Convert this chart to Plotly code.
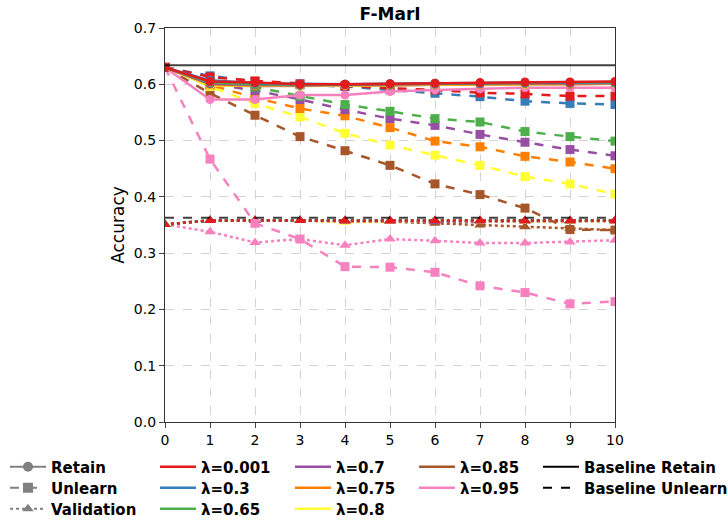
import plotly.graph_objects as go

steps = list(range(11))
lambdas = ["0.001", "0.3", "0.65", "0.7", "0.75", "0.8", "0.85", "0.95"]
colors = ["#e41a1c", "#377eb8", "#4daf4a", "#984ea3", "#ff7f00", "#ffff33", "#a65628", "#f781bf"]

retain = {
    "0.001": [0.630, 0.605, 0.603, 0.600, 0.600, 0.601, 0.602, 0.603, 0.604, 0.604, 0.605],
    "0.3":   [0.630, 0.607, 0.602, 0.601, 0.600, 0.601, 0.602, 0.602, 0.603, 0.603, 0.604],
    "0.65":  [0.630, 0.603, 0.600, 0.599, 0.600, 0.600, 0.601, 0.602, 0.602, 0.603, 0.603],
    "0.7":   [0.630, 0.601, 0.599, 0.598, 0.599, 0.600, 0.600, 0.601, 0.602, 0.602, 0.602],
    "0.75":  [0.630, 0.600, 0.598, 0.598, 0.598, 0.599, 0.600, 0.600, 0.601, 0.601, 0.602],
    "0.8":   [0.630, 0.598, 0.598, 0.597, 0.598, 0.599, 0.599, 0.600, 0.600, 0.601, 0.601],
    "0.85":  [0.630, 0.598, 0.597, 0.597, 0.598, 0.598, 0.599, 0.600, 0.600, 0.600, 0.601],
    "0.95":  [0.630, 0.573, 0.573, 0.581, 0.581, 0.587, 0.590, 0.592, 0.594, 0.594, 0.594],
}
unlearn = {
    "0.001": [0.630, 0.613, 0.606, 0.601, 0.597, 0.593, 0.590, 0.585, 0.583, 0.579, 0.579],
    "0.3":   [0.630, 0.615, 0.605, 0.599, 0.596, 0.590, 0.584, 0.578, 0.570, 0.566, 0.564],
    "0.65":  [0.630, 0.605, 0.595, 0.579, 0.564, 0.552, 0.539, 0.533, 0.516, 0.507, 0.499],
    "0.7":   [0.630, 0.601, 0.589, 0.573, 0.555, 0.539, 0.527, 0.511, 0.497, 0.484, 0.473],
    "0.75":  [0.630, 0.599, 0.576, 0.557, 0.544, 0.523, 0.499, 0.489, 0.472, 0.462, 0.450],
    "0.8":   [0.630, 0.596, 0.566, 0.542, 0.513, 0.492, 0.474, 0.456, 0.436, 0.423, 0.405],
    "0.85":  [0.630, 0.584, 0.545, 0.507, 0.482, 0.456, 0.423, 0.404, 0.380, 0.342, 0.341],
    "0.95":  [0.630, 0.467, 0.353, 0.325, 0.276, 0.275, 0.266, 0.242, 0.230, 0.210, 0.214],
}
validation = {
    "0.001": [0.351, 0.358, 0.358, 0.358, 0.358, 0.358, 0.358, 0.358, 0.358, 0.358, 0.358],
    "0.3":   [0.351, 0.358, 0.358, 0.358, 0.358, 0.358, 0.358, 0.358, 0.358, 0.358, 0.358],
    "0.65":  [0.351, 0.358, 0.358, 0.358, 0.358, 0.358, 0.358, 0.358, 0.358, 0.358, 0.358],
    "0.7":   [0.351, 0.358, 0.358, 0.358, 0.357, 0.357, 0.356, 0.357, 0.357, 0.357, 0.357],
    "0.75":  [0.351, 0.358, 0.358, 0.358, 0.356, 0.356, 0.357, 0.357, 0.357, 0.357, 0.357],
    "0.8":   [0.351, 0.358, 0.358, 0.358, 0.355, 0.356, 0.357, 0.357, 0.356, 0.356, 0.357],
    "0.85":  [0.351, 0.358, 0.358, 0.358, 0.357, 0.356, 0.353, 0.350, 0.347, 0.344, 0.341],
    "0.95":  [0.351, 0.338, 0.319, 0.325, 0.314, 0.325, 0.322, 0.318, 0.318, 0.320, 0.323],
}
baseline_retain = 0.634
baseline_unlearn = 0.363

title = "F-MarI"
FONT = "DejaVu Sans"

fig = go.Figure()

order = list(range(len(lambdas)))[::-1]
for i in order:
    lam, c = lambdas[i], colors[i]
    fig.add_trace(go.Scatter(x=steps, y=validation[lam], mode="lines+markers",
                             line=dict(color=c, width=2.5, dash="dot"),
                             marker=dict(symbol="triangle-up", size=10, color=c),
                             showlegend=False))
for i in order:
    lam, c = lambdas[i], colors[i]
    fig.add_trace(go.Scatter(x=steps, y=unlearn[lam], mode="lines+markers",
                             line=dict(color=c, width=2.5, dash="dash"),
                             marker=dict(symbol="square", size=9, color=c),
                             showlegend=False))
for i in order:
    lam, c = lambdas[i], colors[i]
    fig.add_trace(go.Scatter(x=steps, y=retain[lam], mode="lines+markers",
                             line=dict(color=c, width=2.5, dash="solid"),
                             marker=dict(symbol="circle", size=9, color=c),
                             showlegend=False))

fig.add_trace(go.Scatter(x=[0, 10], y=[baseline_retain] * 2, mode="lines",
                         line=dict(color="rgba(0,0,0,0.75)", width=2), showlegend=False))
fig.add_trace(go.Scatter(x=[0, 10], y=[baseline_unlearn] * 2, mode="lines",
                         line=dict(color="rgba(0,0,0,0.75)", width=2, dash="dash"), showlegend=False))

# legend entries: (name, line dict, marker or None, column, row)
gray = "#808080"
entries = []
for r, (name, sym, dash) in enumerate([("Retain", "circle", "solid"), ("Unlearn", "square", "dash"),
                                       ("Validation", "triangle-up", "dot")]):
    entries.append((name, dict(color=gray, width=2, dash=dash), dict(symbol=sym, size=10, color=gray), 0, r))
for k, i in enumerate(range(len(lambdas))):
    col = 1 + k // 3
    row = k % 3
    entries.append(("λ=" + lambdas[i], dict(color=colors[i], width=2.5), None, col, row))
entries.append(("Baseline Retain", dict(color="black", width=2), None, 4, 0))
entries.append(("Baseline Unlearn", dict(color="black", width=2, dash="dash"), None, 4, 1))

col_px = [5, 155, 290, 414, 538]
row_px = [466, 487, 508]
plot_left, plot_w, plot_bottom, plot_h = 165, 450, 422, 394

legend_layouts = {}
for n, (name, ln, mk, col, row) in enumerate(entries):
    key = "legend" if n == 0 else "legend%d" % (n + 1)
    tr = dict(x=[None], y=[None], name=name, line=ln, legend=key, showlegend=True)
    if mk is not None:
        tr.update(mode="lines+markers", marker=mk)
    else:
        tr.update(mode="lines")
    fig.add_trace(go.Scatter(**tr))
    top_px = row_px[row] - 15.5
    legend_layouts[key] = dict(
        x=(col_px[col] - plot_left) / plot_w, xanchor="left",
        y=-(top_px - plot_bottom) / plot_h, yanchor="top",
        bgcolor="rgba(0,0,0,0)", itemwidth=36,
        font=dict(family=FONT, size=15, color="black", weight="bold"),
    )

fig.update_layout(
    width=728, height=521,
    margin=dict(l=165, r=113, t=28, b=99, autoexpand=False),
    plot_bgcolor="white", paper_bgcolor="white",
    font=dict(family=FONT, size=14, color="black"),
    title=dict(text="<b>" + title + "</b>", x=(165 + 225) / 728, xanchor="center",
               y=1 - 14 / 521, yanchor="middle", font=dict(size=17, family=FONT)),
    xaxis=dict(range=[0, 10], tickmode="array", tickvals=steps, ticks="outside", ticklen=5,
               showgrid=True, gridcolor="#d3d3d3", griddash="dash", gridwidth=1,
               showline=True, linecolor="#333", linewidth=1.2, mirror=True, zeroline=False,
               tickfont=dict(size=14)),
    yaxis=dict(range=[0, 0.7], dtick=0.1, tickformat=".1f", ticks="outside", ticklen=5,
               showgrid=True, gridcolor="#d3d3d3", griddash="dash", gridwidth=1,
               showline=True, linecolor="#333", linewidth=1.2, mirror=True, zeroline=False,
               title=dict(text="Accuracy", font=dict(size=17), standoff=4),
               tickfont=dict(size=14)),
    **legend_layouts,
)

fig.write_html("out.html")
